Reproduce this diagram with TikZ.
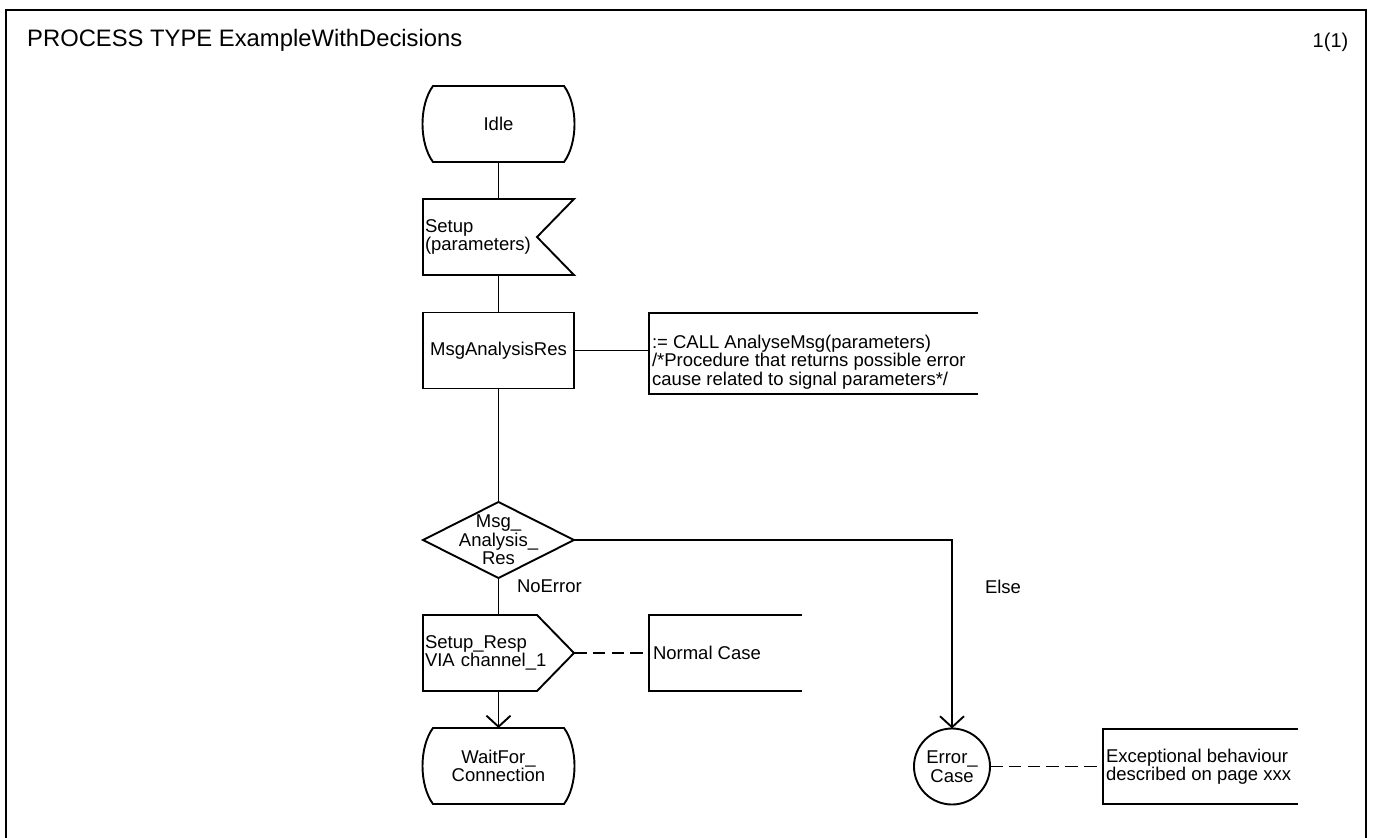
\documentclass[tikz,border=0pt]{standalone}
\usepackage{fontspec}
\setmainfont{Liberation Sans}
\usetikzlibrary{calc,arrows.meta}

\newcommand{\sdlbodyfont}{\fontsize{18.5}{18.5}\selectfont}
\newcommand{\sdltitlefont}{\fontsize{23.8}{23.8}\selectfont}
\newcommand{\sdlpagefont}{\fontsize{20}{20}\selectfont}

\tikzset{
  sdl/.style={line width=1.9pt, line join=miter},
  frameline/.style={line width=2.8pt},
  symbol/.style={rectangle, draw=none, inner sep=0pt, outer sep=0pt,
    minimum width=151pt, minimum height=76pt, font=\sdlbodyfont, align=center},
  lefttext/.style={text width=147pt, align=left},
  commentbox/.style={rectangle, draw=none, inner sep=0pt, outer sep=0pt},
  plaintext/.style={inner sep=0pt, outer sep=0pt, font=\sdlbodyfont, align=left},
  flowarrow/.style={sdl, -{Straight Barb[length=11pt, width=24pt]}},
  annot/.style={sdl, dash pattern=on 12.5pt off 6.3pt},
}

% SDL state symbol: straight top/bottom, bulging sides
\newcommand{\sdlstate}[1]{%
  \draw[sdl] ($(#1.north west)+(10,0)$) -- ($(#1.north east)+(-10,0)$)
    .. controls ($(#1.north east)+(4,19)$) and ($(#1.south east)+(4,-19)$) .. ($(#1.south east)+(-10,0)$)
    -- ($(#1.south west)+(10,0)$)
    .. controls ($(#1.south west)+(-4,-19)$) and ($(#1.north west)+(-4,19)$) .. cycle;}
% SDL input signal: notch on the right
\newcommand{\sdlinput}[1]{%
  \draw[sdl] (#1.north west) -- (#1.north east) -- ($(#1.east)+(-37,0)$)
    -- (#1.south east) -- (#1.south west) -- cycle;}
% SDL output signal: pointed on the right
\newcommand{\sdloutput}[1]{%
  \draw[sdl] (#1.north west) -- ($(#1.north east)+(-37,0)$) -- (#1.east)
    -- ($(#1.south east)+(-37,0)$) -- (#1.south west) -- cycle;}
% SDL decision: diamond
\newcommand{\sdldecision}[1]{%
  \draw[sdl] (#1.north) -- (#1.east) -- (#1.south) -- (#1.west) -- cycle;}
% Comment bracket open on the right
\newcommand{\sdlcomment}[1]{%
  \draw[sdl] (#1.north east) -- (#1.north west) -- (#1.south west) -- (#1.south east);}

\begin{document}
\begin{tikzpicture}[x=1pt, y=-1pt]
  \useasboundingbox (0,0) rectangle (1374,838);

  % page frame, open at the bottom
  \draw[frameline] (6,850) -- (6,10) -- (1366,10) -- (1366,850);
  \node[anchor=base west, inner sep=0pt, font=\sdltitlefont] (title) at (27,46.5) {PROCESS TYPE ExampleWithDecisions};
  \node[anchor=base east, inner sep=0pt, font=\sdlpagefont] (page) at (1348.5,47) {1(1)};

  % main flow
  \node[symbol] (idle) at (498.5,124) {Idle};
  \node[symbol, lefttext] (setup) at (498.5,237) {Setup\\(parameters)};
  \node[symbol] (task) at (498.5,350.5) {MsgAnalysisRes};
  \node[symbol] (dec) at (498.5,540) {Msg\_\\Analysis\_\\Res};
  \node[symbol, lefttext] (out) at (498.5,653) {Setup\_Resp\\VIA channel\_1};
  \node[symbol] (wait) at (498.5,766) {WaitFor\_\\Connection};
  \node[circle, sdl, draw, inner sep=0pt, outer sep=0pt, minimum size=76pt,
        font=\sdlbodyfont, align=center] (err) at (952,766.5) {Error\_\\Case};

  \sdlstate{idle}
  \sdlinput{setup}
  \draw[sdl] (task.north west) rectangle (task.south east);
  \sdldecision{dec}
  \sdloutput{out}
  \sdlstate{wait}

  % comments
  \node[commentbox, minimum width=329pt, minimum height=81pt] (c1) at (813.5,353.5) {};
  \node[plaintext, anchor=west] (c1t) at (652,362) {:= CALL AnalyseMsg(parameters)\\/*Procedure that returns possible error\\cause related to signal parameters*/};
  \node[commentbox, minimum width=153pt, minimum height=76pt] (c2) at (725.5,653) {};
  \node[plaintext, anchor=west] (c2t) at (653,653) {Normal Case};
  \node[commentbox, minimum width=195pt, minimum height=75pt] (c3) at (1200.5,766.5) {};
  \node[plaintext, anchor=west] (c3t) at (1106,766.5) {Exceptional behaviour\\described on page xxx};
  \sdlcomment{c1}
  \sdlcomment{c2}
  \sdlcomment{c3}

  % branch labels
  \node[plaintext, anchor=west] (noerr) at (517,586) {NoError};
  \node[plaintext, anchor=west] (elselbl) at (985,587) {Else};

  % connectors
  \draw[sdl] (idle.south) -- (setup.north);
  \draw[sdl] (setup.south) -- (task.north);
  \draw[sdl] (task.east) -- (task.east -| c1.west);
  \draw[sdl] (task.south) -- (dec.north);
  \draw[sdl] (dec.south) -- (out.north);
  \draw[annot] (out.east) -- (c2.west);
  \draw[flowarrow] (out.south) -- (wait.north);
  \draw[flowarrow] (dec.east) -| (err.north);
  \draw[annot] (err.east) -- (c3.west);
\end{tikzpicture}
\end{document}
